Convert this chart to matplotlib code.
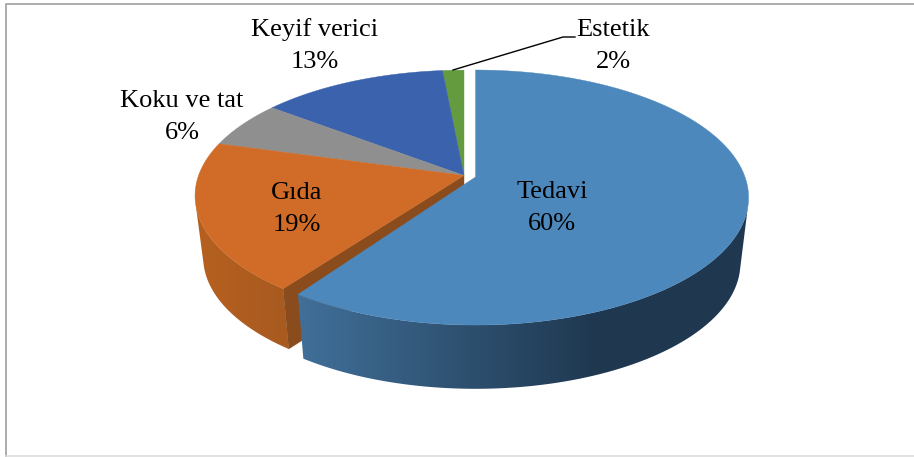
import numpy as np
import matplotlib.pyplot as plt
from matplotlib.colors import LinearSegmentedColormap
from matplotlib.patches import Polygon

# Données du graphique
categories = ["Tedavi", "Gıda", "Koku ve tat", "Keyif verici", "Estetik"]
values = [60.1, 19.25, 6.05, 13.1, 1.5]
percent_labels = ["60%", "19%", "6%", "13%", "2%"]
top_colors = ["#4d88bc", "#d06c27", "#8f8f8f", "#3a62ad", "#659b3f"]
side_left = ["#41709a", "#b5601f", "#7a7a7a", "#2f5290", "#517f32"]
side_right = ["#1f3850", "#a85a20", "#7a7a7a", "#2f5290", "#517f32"]
label_pos = [(552, 208), (297, 209), (182, 117), (315, 46), (613, 46)]

# Géométrie de la perspective (pixels)
a, b, k = 269.5, 124.2, 0.161
# cx, apex_y, profondeur, échelle haut, échelle x bas, échelle y bas
tedavi_geo = (475.5, 177, 66, 1.0, 0.97, 0.985)
others_geo = (464, 175.5, 62, 0.985, 0.955, 0.97)
tedavi_cut = np.radians(1.5)  # Tedavi s'arrête un peu avant Gıda à cause de la perspective


def project(theta):
    u, v = np.sin(theta), np.cos(theta)
    w = 1 + k * v
    return a * u / w, -b * v / w


def top_xy(geo, theta):
    x, y = project(theta)
    return geo[0] + x * geo[3], geo[1] + y * geo[3]


def bottom_xy(geo, theta):
    x, y = project(theta)
    return geo[0] + x * geo[4], geo[1] + geo[2] + y * geo[5]


fig = plt.figure(figsize=(9.14, 4.57), dpi=100)
ax = fig.add_axes([0, 0, 1, 1])
ax.set_xlim(0, 914)
ax.set_ylim(457, 0)
ax.axis("off")

# Cadre
ax.plot([914, 6, 6], [3.5, 3.5, 457], color="#a6a6a6", lw=1.3)
ax.plot([6, 914], [456, 456], color="#dddddd", lw=1.2)

edges = np.radians(np.cumsum([0] + values) * 3.6)

# Les tranches de gauche d'abord, Tedavi passe devant
for n, i in enumerate([4, 3, 2, 1, 0]):
    geo = tedavi_geo if i == 0 else others_geo
    cx, apex_y, depth = geo[:3]
    t_end = edges[i + 1] - tedavi_cut if i == 0 else edges[i + 1]
    thetas = np.linspace(edges[i], t_end, 300)
    base_z = 2 + n * 2

    tx, ty = top_xy(geo, thetas)
    bx, by = bottom_xy(geo, thetas)

    # Seule la partie tournée vers nous a une face latérale
    cross = np.gradient(tx) * (by - ty) - np.gradient(ty) * (bx - tx)
    front = cross < 0
    if front.any():
        fx, fy = tx[front], ty[front]
        gx, gy = bx[front], by[front]
        outline = Polygon(np.c_[np.r_[fx, gx[::-1]], np.r_[fy, gy[::-1]]], closed=True,
                          facecolor="none", edgecolor="none", transform=ax.transData)
        ax.add_patch(outline)
        # Dégradé horizontal, constant en dehors de la plage
        x0, x1 = (295, 595) if i == 0 else (200, 290)
        xx = np.linspace(0, 914, 915)
        grad = np.clip((xx - x0) / (x1 - x0), 0, 1)[None, :]
        cmap = LinearSegmentedColormap.from_list("side", [side_left[i], side_right[i]])
        im = ax.imshow(grad, extent=(0, 914, 457, 0), cmap=cmap, vmin=0, vmax=1,
                       aspect="auto", zorder=base_z, interpolation="bilinear")
        im.set_clip_path(outline)

    # Face de coupe de Gıda, visible à cause de l'éclatement
    if i == 1:
        xr, yr = top_xy(geo, edges[i])
        xb, yb = bottom_xy(geo, edges[i])
        ax.fill([cx, xr, xb, cx], [apex_y, yr, yb, apex_y + depth],
                color="#8a4c1c", lw=0.3, zorder=base_z + 0.5)

    # Dessus de la tranche
    ax.fill(np.r_[cx, tx], np.r_[apex_y, ty], color=top_colors[i], lw=0.3, zorder=base_z + 1)

ax.set_xlim(0, 914)
ax.set_ylim(457, 0)

# Étiquettes
for name, pct, (lx, ly) in zip(categories, percent_labels, label_pos):
    ax.text(lx, ly - 16, name, ha="center", va="center", fontsize=19,
            family="Liberation Serif", color="black", zorder=50)
    ax.text(lx, ly + 16, pct, ha="center", va="center", fontsize=19,
            family="Liberation Serif", color="black", zorder=50)

# Ligne de rappel Estetik
ax.plot([453, 563, 575], [70, 37, 37], color="black", lw=1.0, zorder=40)

fig.savefig("out.png", dpi=100)
